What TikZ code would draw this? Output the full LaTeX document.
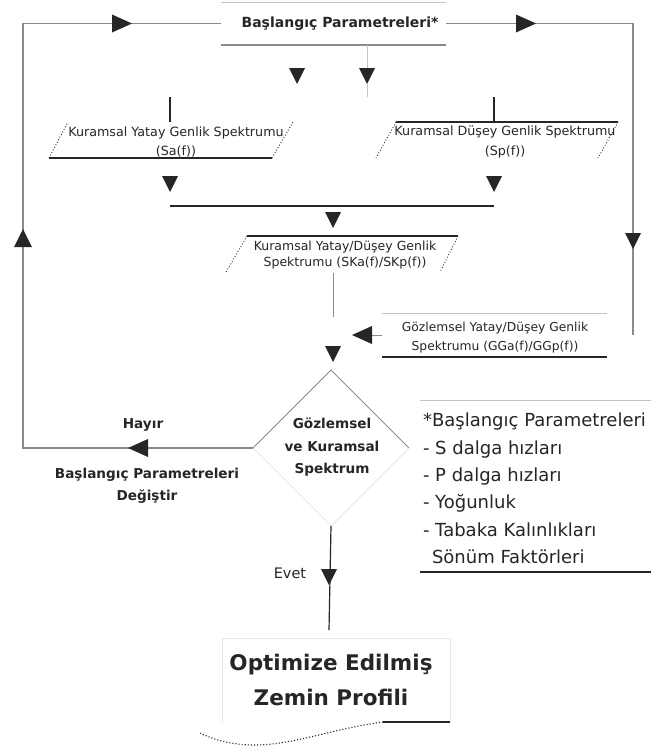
\documentclass[tikz,border=0pt]{standalone}
\usepackage{fontspec}
\setmainfont{DejaVu Sans}
\usetikzlibrary{shapes.geometric}
\definecolor{ink}{HTML}{262626}
\definecolor{wire}{HTML}{8A8A8A}
\definecolor{pale}{HTML}{C4C4C4}
\definecolor{ghost}{HTML}{E6E6E6}

% filled arrowheads centred on a point (x,y), y grows downwards
\newcommand\tdown[2]{\fill[ink] (#1-8,#2-8) -- (#1+8,#2-8) -- (#1,#2+8) -- cycle;}
\newcommand\tup[2]{\fill[ink] (#1-9,#2+9) -- (#1+9,#2+9) -- (#1,#2-9) -- cycle;}
\newcommand\tleft[2]{\fill[ink] (#1+10,#2-9) -- (#1+10,#2+9) -- (#1-10,#2) -- cycle;}
\newcommand\tright[2]{\fill[ink] (#1-10,#2-9) -- (#1-10,#2+9) -- (#1+10,#2) -- cycle;}

\begin{document}
\begin{tikzpicture}[x=1pt,y=-1pt,
  every node/.style={inner sep=0pt, outer sep=0pt, text=ink},
  small/.style={font=\fontsize{12.7}{19.5}\selectfont, align=center},
  mid/.style={font=\fontsize{12.5}{16.5}\selectfont, align=center},
  label/.style={font=\bfseries\fontsize{13.6}{22.5}\selectfont, align=center},
  legend/.style={font=\fontsize{18}{27.4}\selectfont, align=left},
  big/.style={font=\bfseries\fontsize{21.5}{35}\selectfont, align=center},
  solidedge/.style={draw=ink, line width=1.1pt},
  dotedge/.style={draw=ink, line width=0.9pt, dotted},
  loopline/.style={draw=wire, line width=1.1pt},
  faint/.style={draw=pale, line width=1pt},
]
\fill[white] (0,0) rectangle (651,747);
\useasboundingbox (0,0) rectangle (651,747);

% ---- start parameters box ----
\node[minimum width=225, minimum height=43, font=\bfseries\fontsize{14}{16}\selectfont]
  (start) at (333.5,23.5) {\hspace*{13pt}Başlangıç Parametreleri*};
\draw[faint] (start.north west) -- (start.north east);
\draw[draw=wire, line width=1.3pt] (start.south west) -- (start.south east);
\tdown{297}{76}
\tdown{367}{76}
\draw[faint] (367,45) -- (367,68);
\draw[faint] (367,84) -- (367,97);

% ---- theoretical horizontal spectrum ----
\coordinate (kyTL) at (68,122);  \coordinate (kyTR) at (293,122);
\coordinate (kyBR) at (272,158); \coordinate (kyBL) at (49,158);
\node[small] (ky) at (176,142) {Kuramsal Yatay Genlik Spektrumu\\(Sa(f))};
\draw[solidedge] (kyBL) -- (kyBR);
\draw[dotedge] (kyBL) -- (kyTL);
\draw[dotedge] (kyBR) -- (kyTR);
\draw[solidedge] (170,97) -- (170,122);

% ---- theoretical vertical spectrum ----
\coordinate (kdTL) at (396,122); \coordinate (kdTR) at (618,122);
\coordinate (kdBR) at (598,158); \coordinate (kdBL) at (376,158);
\node[small] (kd) at (505,142) {Kuramsal Düşey Genlik Spektrumu\\(Sp(f))};
\draw[solidedge] (kdTL) -- (kdTR);
\draw[dotedge] (kdTL) -- (kdBL);
\draw[dotedge] (kdTR) -- (kdBR);
\draw[solidedge] (494,97) -- (494,122);

\tdown{170}{184}
\tdown{494}{184}
\draw[solidedge] (170,206) coordinate (jl) -- (494,206) coordinate (jr);
\tdown{333}{220}

% ---- combined theoretical spectrum ----
\coordinate (kkTL) at (247,236); \coordinate (kkTR) at (458,236);
\coordinate (kkBR) at (440,272); \coordinate (kkBL) at (226,272);
\node[mid] (kk) at (345,255) {Kuramsal Yatay/Düşey Genlik\\Spektrumu (SKa(f)/SKp(f))};
\draw[solidedge] (kkTL) -- (kkTR);
\draw[dotedge] (kkTL) -- (kkBL);
\draw[dotedge] (kkTR) -- (kkBR);
\draw[draw=wire, line width=1pt] (333,273) -- (333,317);

% ---- observed spectrum ----
\node[minimum width=225, minimum height=44] (obs) at (494.5,335) {};
\node[small, font=\fontsize{12.3}{19}\selectfont] (obstxt) at (495,337.5)
  {Gözlemsel Yatay/Düşey Genlik\\Spektrumu (GGa(f)/GGp(f))};
\draw[faint] (obs.north west) -- (obs.north east);
\draw[solidedge] (obs.south west) -- (obs.south east);
\coordinate (obsin) at (372,335);
\draw[draw=wire, line width=1pt] (obs.west) -- (obsin);
\tleft{362}{335}
\tdown{333}{354}

% ---- decision ----
\node[diamond, minimum width=156, minimum height=156] (dec) at (331,448) {};
\draw[draw=wire, line width=1pt] (dec.west) -- (dec.north) -- (dec.east);
\draw[draw=ghost, line width=1pt] (dec.east) -- (dec.south) -- (dec.west);
\node[label] (dectxt) at (332,447.5) {Gözlemsel\\ve Kuramsal\\Spektrum};

% ---- "no" branch: back to the start parameters ----
\coordinate (nocorner) at (23,448);
\draw[loopline] (dec.west) -- (nocorner) |- (start.west);
\tleft{138}{448}
\tup{23}{238}
\tright{122}{23.5}
\node[label] (hayir) at (143,425) {Hayır};
\node[label] (change) at (147,486) {Başlangıç Parametreleri\\Değiştir};

% ---- start parameters feed the observed side ----
\coordinate (rfeed) at (633,335);
\draw[loopline] (start.east) -| (rfeed);
\tright{526}{23.5}
\tdown{633}{241}

% ---- legend ----
\draw[faint] (420,400) -- (651,400);
\draw[draw=ink, line width=1.4pt] (420,572) -- (651,572);
\node[legend, anchor=west] (legend) at (423,488.5)
  {*Başlangıç Parametreleri\\- S dalga hızları\\- P dalga hızları\\- Yoğunluk\\- Tabaka Kalınlıkları\\\hspace*{9pt}Sönüm Faktörleri};

% ---- "yes" branch: optimised profile ----
\coordinate (yesend) at (329,630);
\draw[draw=ink, line width=1.2pt] (dec.south) -- (yesend);
\tdown{329}{577}
\node[font=\fontsize{14.5}{16}\selectfont] (evet) at (290,573) {Evet};

\node[big] (result) at (331,679.5) {Optimize Edilmiş\\Zemin Profili};
\draw[draw=ghost, line width=1pt] (222,722) -- (222,638) -- (450,638) -- (450,722);
\draw[draw=ink, line width=1.2pt] (383,722) -- (450,722);
\draw[draw=ink, line width=1.1pt, dotted] (383,722) .. controls (330,729) and (292,746) .. (250,745)
  .. controls (228,744) and (212,739) .. (200,733);
\end{tikzpicture}
\end{document}
